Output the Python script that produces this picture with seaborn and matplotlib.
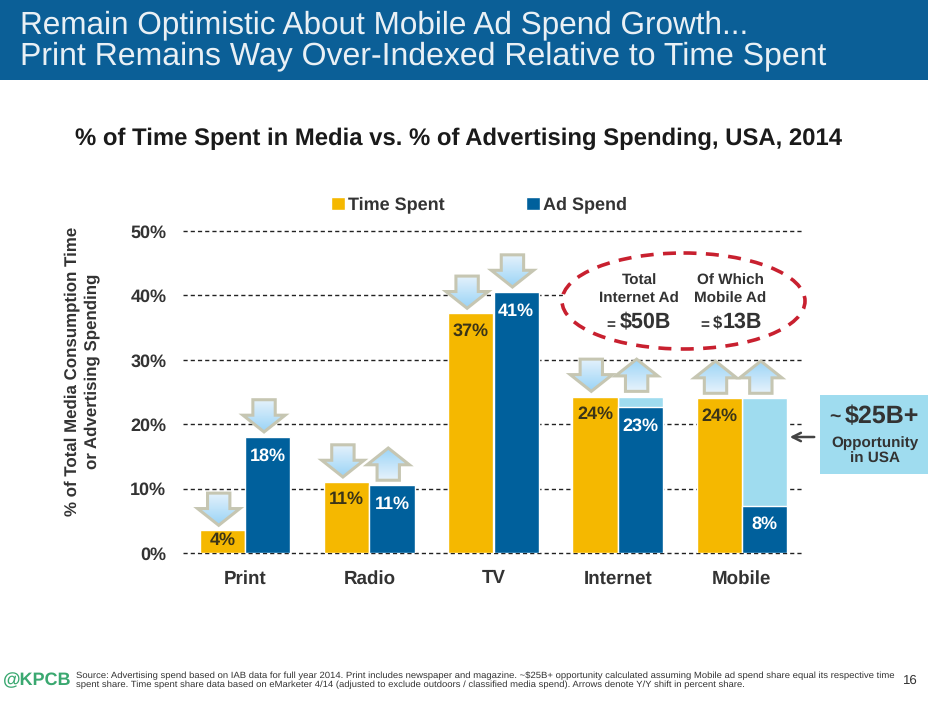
#!/usr/bin/python
# -*- coding: utf-8 -*-
import numpy as np
import pandas as pd
import matplotlib
matplotlib.use('Agg')
import matplotlib.pyplot as plt
from matplotlib.patches import Ellipse, Polygon, Rectangle
import seaborn as sns

categories = ['Print', 'Radio', 'TV', 'Internet', 'Mobile']
time_spent = [3.5, 11.0, 37.2, 24.3, 24.0]
ad_spend = [18.0, 10.5, 40.5, 22.6, 7.3]
# light blue part behind the Ad Spend bar, up to the Time Spent share
gap_top = [0, 0, 0, 24.3, 24.0]
time_labels = ['4%', '11%', '37%', '24%', '24%']
ad_labels = ['18%', '11%', '41%', '23%', '8%']
# Y/Y shift arrows, -1 down, 1 up
time_shift = [-1, -1, -1, -1, 1]
ad_shift = [-1, 1, -1, 1, 1]
y_ticks = [0, 10, 20, 30, 40, 50]
y_tick_labels = ['0%', '10%', '20%', '30%', '40%', '50%']

YELLOW = '#f5b800'
BLUE = '#00609c'
LIGHT = '#9fdcef'
DARK = '#333333'
FONT = 'Liberation Sans'

sns.set_style('white')
plt.rcParams['font.family'] = [FONT, 'DejaVu Sans']
plt.rcParams['text.hinting'] = 'no_hinting'

W, H = 929, 702
fig = plt.figure(figsize=(W / 100, H / 100), dpi=100)
ax = fig.add_axes([183 / W, 1 - 553 / H, 621 / W, 322 / H])

n = len(categories)
df = pd.DataFrame({'cat': categories * 2,
                   'series': ['Time Spent'] * n + ['Ad Spend'] * n,
                   'val': time_spent + ad_spend})
df_gap = pd.DataFrame({'cat': categories * 2,
                       'series': ['Time Spent'] * n + ['Ad Spend'] * n,
                       'val': [0] * n + gap_top})
bar_w = 0.73
sns.barplot(data=df_gap, x='cat', y='val', hue='series', width=bar_w, ax=ax,
            palette={'Time Spent': LIGHT, 'Ad Spend': LIGHT}, legend=False,
            saturation=1, errorbar=None, zorder=2)
sns.barplot(data=df, x='cat', y='val', hue='series', width=bar_w, ax=ax,
            palette={'Time Spent': YELLOW, 'Ad Spend': BLUE},
            saturation=1, errorbar=None, zorder=3)

ax.set_xlim(-0.5, n - 0.5)
ax.set_ylim(0, 50)
ax.set_yticks(y_ticks)
ax.set_yticklabels(y_tick_labels, fontsize=13, fontweight='bold', color=DARK)
ax.tick_params(axis='x', labelsize=13.5, labelcolor=DARK, length=0, pad=12)
ax.tick_params(axis='y', length=0, pad=12)
for t in ax.get_xticklabels():
    t.set_fontweight('bold')
ax.set_xlabel('')
ax.set_ylabel('% of Total Media Consumption Time\nor Advertising Spending',
              fontsize=12.2, fontweight='bold', color=DARK, linespacing=1.35)
ax.yaxis.set_label_coords(-0.134, 0.565)
ax.grid(axis='y', color='#222222', linestyle=(0, (3, 2.2)), linewidth=1.0)
for gl in ax.get_ygridlines():
    gl.set_clip_on(False)
ax.set_axisbelow(True)
sns.despine(ax=ax, left=True, bottom=True)
ax.patch.set_alpha(0)

leg = ax.legend(loc='center', bbox_to_anchor=(0.477, 1.081), ncol=2, frameon=False,
                handlelength=0.75, handleheight=0.75, handletextpad=0.2,
                columnspacing=4.5, prop={'family': FONT, 'weight': 'bold', 'size': 13})
for t in leg.get_texts():
    t.set_color(DARK)

# value labels just inside the bars
off = bar_w / 4
for i in range(n):
    ax.text(i - off, max(time_spent[i] - 2.7, 2.0), time_labels[i], ha='center', va='center',
            fontsize=13, fontweight='bold', color='#3b3418', zorder=6)
    ax.text(i + off, max(ad_spend[i] - 2.9, 2.0), ad_labels[i], ha='center', va='center',
            fontsize=13, fontweight='bold', color='white', zorder=6)

# gradient filled shift arrows sitting on the bars
grad = np.linspace(0, 1, 64).reshape(-1, 1)
arrow_cmap = matplotlib.colors.LinearSegmentedColormap.from_list('arr', ['#e6f3fc', '#9ad3f6'])


def shift_arrow(x, base, direction):
    hw, sw = 0.17, 0.09
    tall, head = 5.0, 2.6
    y0 = base + 0.8
    y1 = y0 + tall
    if direction < 0:
        pts = [(x - sw, y1), (x + sw, y1), (x + sw, y0 + head), (x + hw, y0 + head),
               (x, y0), (x - hw, y0 + head), (x - sw, y0 + head)]
        img = grad
    else:
        pts = [(x - sw, y0), (x + sw, y0), (x + sw, y1 - head), (x + hw, y1 - head),
               (x, y1), (x - hw, y1 - head), (x - sw, y1 - head)]
        img = grad[::-1]
    poly = Polygon(pts, closed=True, facecolor='none', edgecolor='#c6c6b2',
                   linewidth=2.2, joinstyle='miter', zorder=8)
    ax.add_patch(poly)
    im = ax.imshow(img[::-1], cmap=arrow_cmap, aspect='auto', origin='lower', zorder=7,
                   extent=(x - hw, x + hw, y0, y1))
    im.set_clip_path(poly)


for i in range(n):
    shift_arrow(i - off - 0.03, time_spent[i], time_shift[i])
    shift_arrow(i + off - 0.03, max(ad_spend[i], gap_top[i]), ad_shift[i])
ax.set_xlim(-0.5, n - 0.5)
ax.set_ylim(0, 50)

# everything else is placed in picture pixels
ov = fig.add_axes([0, 0, 1, 1], zorder=10)
ov.set_xlim(0, W)
ov.set_ylim(H, 0)
ov.axis('off')

ov.add_patch(Rectangle((0, 0), W, 80, facecolor='#0b5f97', edgecolor='none'))
ov.text(20, 25, 'Remain Optimistic About Mobile Ad Spend Growth...', fontsize=22.7,
        color='#e9f0f5', va='center')
ov.text(20, 56, 'Print Remains Way Over-Indexed Relative to Time Spent', fontsize=23,
        color='#e9f0f5', va='center')
ov.text(459, 139, '% of Time Spent in Media vs. % of Advertising Spending, USA, 2014',
        fontsize=17.2, fontweight='bold', color='#1a1a1a', ha='center', va='center')

ov.add_patch(Ellipse((683.5, 301), 243, 96, facecolor='white', edgecolor='#c8202f',
                     linewidth=2.6, linestyle=(0, (3.6, 2.6))))
ov.text(639, 281, 'Total', fontsize=11, fontweight='bold', color=DARK, ha='center', va='center')
ov.text(639, 299, 'Internet Ad', fontsize=11, fontweight='bold', color=DARK, ha='center', va='center')
ov.text(606, 325, '=', fontsize=11, fontweight='bold', color=DARK, ha='left', va='center')
ov.text(620, 322, '$50B', fontsize=15.5, fontweight='bold', color=DARK, ha='left', va='center')
ov.text(730, 281, 'Of Which', fontsize=11, fontweight='bold', color=DARK, ha='center', va='center')
ov.text(730, 299, 'Mobile Ad', fontsize=11, fontweight='bold', color=DARK, ha='center', va='center')
ov.text(700, 325, '=', fontsize=11, fontweight='bold', color=DARK, ha='left', va='center')
ov.text(713, 323, '$', fontsize=12, fontweight='bold', color=DARK, ha='left', va='center')
ov.text(723, 322, '13B', fontsize=15.5, fontweight='bold', color=DARK, ha='left', va='center')

ov.add_patch(Rectangle((820, 395), 109, 79, facecolor=LIGHT, edgecolor='none'))
ov.text(829, 418, '~', fontsize=14, fontweight='bold', color=DARK, ha='left', va='center')
ov.text(845, 417, '$25B+', fontsize=18, fontweight='bold', color=DARK, ha='left', va='center')
ov.text(875, 443, 'Opportunity', fontsize=11, fontweight='bold', color=DARK, ha='center', va='center')
ov.text(875, 459, 'in USA', fontsize=11, fontweight='bold', color=DARK, ha='center', va='center')
ov.annotate('', xy=(787, 437), xytext=(817, 437),
            arrowprops=dict(arrowstyle='->', color='#444444', lw=1.8, mutation_scale=15))

ov.text(3, 680, '@KPCB', fontsize=13, fontweight='bold', color='#3aa870', va='center')
ov.text(76, 675.5, 'Source: Advertising spend based on IAB data for full year 2014. Print includes newspaper and '
        'magazine. ~$25B+ opportunity calculated assuming Mobile ad spend share equal its respective time',
        fontsize=6.84, color='#333333', va='center')
ov.text(76, 685, 'spent share. Time spent share data based on eMarketer 4/14 (adjusted to exclude outdoors / '
        'classified media spend). Arrows denote Y/Y shift in percent share.',
        fontsize=6.84, color='#333333', va='center')
ov.text(910, 681, '16', fontsize=9.5, color='#333333', ha='center', va='center')

fig.savefig('out.png', dpi=100)
